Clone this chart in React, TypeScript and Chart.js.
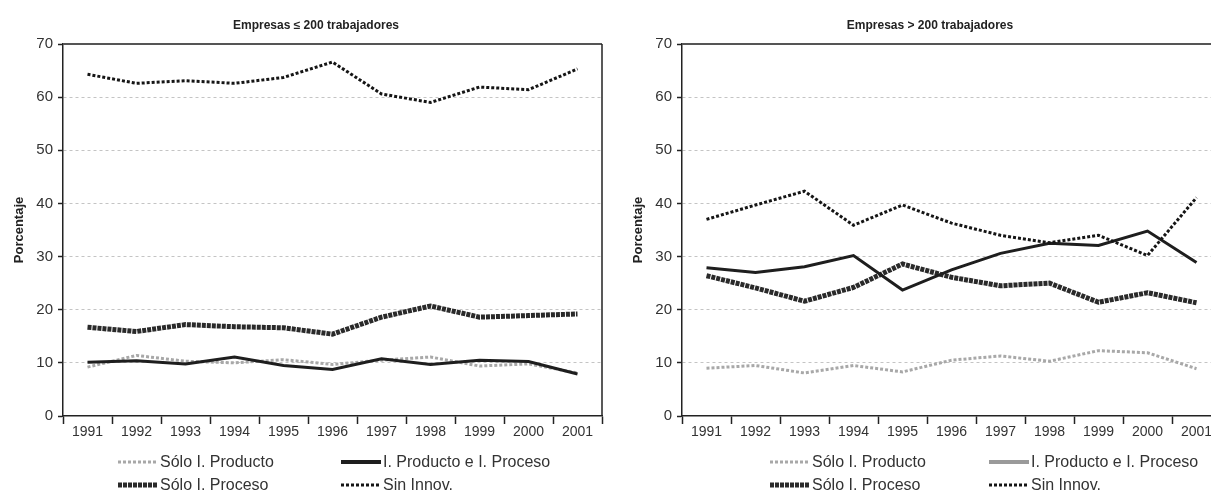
import React, { useEffect, useRef } from "react";
import { Chart, registerables } from "chart.js";

Chart.register(...registerables);

const years = ["1991", "1992", "1993", "1994", "1995", "1996", "1997", "1998", "1999", "2000", "2001"];

const smallProducto = [9.2, 11.4, 10.3, 10.0, 10.6, 9.7, 10.5, 11.1, 9.4, 9.8, 8.1];
const smallAmbos = [10.1, 10.4, 9.8, 11.1, 9.5, 8.75, 10.75, 9.7, 10.5, 10.25, 7.9];
const smallProceso = [16.7, 15.9, 17.2, 16.8, 16.6, 15.4, 18.6, 20.7, 18.6, 18.9, 19.2];
const smallSin = [64.3, 62.6, 63.1, 62.6, 63.7, 66.6, 60.6, 59.0, 61.9, 61.4, 65.3];

const largeProducto = [9.0, 9.5, 8.1, 9.5, 8.3, 10.5, 11.3, 10.3, 12.3, 11.9, 8.9];
const largeAmbos = [27.9, 27.0, 28.1, 30.2, 23.7, 27.5, 30.6, 32.5, 32.1, 34.8, 28.9];
const largeProceso = [26.4, 24.1, 21.6, 24.2, 28.6, 26.1, 24.5, 25.0, 21.4, 23.2, 21.3];
const largeSin = [37.0, 39.7, 42.3, 35.9, 39.7, 36.3, 34.0, 32.6, 34.0, 30.2, 41.1];

const seriesNames = ["Sólo I. Producto", "I. Producto e I. Proceso", "Sólo I. Proceso", "Sin Innov."];
const titles = ["Empresas \u2264 200 trabajadores", "Empresas > 200 trabajadores"];
const yAxisTitle = "Porcentaje";

const FONT = "'Liberation Sans', Arial, sans-serif";

const frame = {
  id: "frame",
  afterDatasetsDraw(chart: any) {
    const { ctx, chartArea } = chart;
    ctx.save();
    ctx.strokeStyle = "#555";
    ctx.lineWidth = 2;
    ctx.beginPath();
    ctx.moveTo(chartArea.left, chartArea.top);
    ctx.lineTo(chartArea.right, chartArea.top);
    ctx.stroke();
    ctx.strokeStyle = "#222";
    ctx.lineWidth = 1.5;
    ctx.beginPath();
    ctx.moveTo(chartArea.right, chartArea.top);
    ctx.lineTo(chartArea.right, chartArea.bottom);
    ctx.stroke();
    ctx.restore();
  },
};

function makeConfig(title: string, d: number[][], rightSpace: number): any {
  const [producto, ambos, proceso, sin] = d;
  return {
    type: "line",
    data: {
      labels: years,
      datasets: [
        { label: seriesNames[0], data: producto, borderColor: "#a8a8a8", borderWidth: 3, borderDash: [3, 2], order: 3 },
        { label: seriesNames[1], data: ambos, borderColor: "#1e1e1e", borderWidth: 3, order: 1 },
        { label: seriesNames[2], data: proceso, borderColor: "#2a2a2a", borderWidth: 5, borderDash: [4, 1], order: 2 },
        { label: seriesNames[3], data: sin, borderColor: "#151515", borderWidth: 3, borderDash: [3, 2], order: 0 },
      ].map((ds) => ({ ...ds, yAxisID: "y", pointRadius: 0, tension: 0, fill: false, borderCapStyle: "butt", borderJoinStyle: "miter" })),
    },
    options: {
      animation: false,
      responsive: false,
      devicePixelRatio: 1,
      layout: { padding: { left: 0, right: 0, top: 0, bottom: 45 } },
      plugins: {
        legend: { display: false },
        tooltip: { enabled: false },
        title: {
          display: true,
          text: title,
          color: "#222",
          font: { family: FONT, size: 12, weight: "bold" },
          padding: { top: 18, bottom: 11.6 },
        },
      },
      scales: {
        x: {
          type: "category",
          offset: true,
          grid: { display: true, drawOnChartArea: false, drawTicks: true, tickLength: 8, tickColor: "#222", tickWidth: 1.5, offset: true },
          border: { display: true, color: "#222", width: 1.5 },
          ticks: { color: "#333", font: { family: FONT, size: 14 }, padding: 0, maxRotation: 0, autoSkip: false },
          afterFit: (s: any) => { s.height = 30; },
        },
        y: {
          min: 0,
          max: 70,
          ticks: { stepSize: 10, color: "#333", font: { family: FONT, size: 15 }, padding: 5 },
          grid: {
            color: (c: any) => (c.tick && (c.tick.value === 0 || c.tick.value === 70) ? "rgba(0,0,0,0)" : "#c4c4c4"),
            lineWidth: 1,
            tickLength: 5,
            tickColor: "#222",
            tickWidth: 1.5,
          },
          border: { display: true, color: "#222", width: 1.5, dash: [3, 3] },
          title: { display: true, text: yAxisTitle, color: "#222", font: { family: FONT, size: 13, weight: "bold" }, padding: { top: 12, bottom: 0 } },
          afterFit: (s: any) => { s.width = 63; },
        },
        spacer: {
          type: "linear",
          position: "right",
          display: true,
          min: 0,
          max: 70,
          ticks: { display: false },
          grid: { display: false, drawTicks: false },
          border: { display: false },
          afterFit: (s: any) => { s.width = rightSpace; },
        },
      },
    },
    plugins: [frame],
  };
}

function Panel({ left, width, rightSpace, title, data }: { left: number; width: number; rightSpace: number; title: string; data: number[][] }) {
  const ref = useRef<HTMLCanvasElement>(null);
  useEffect(() => {
    const chart = new Chart(ref.current as HTMLCanvasElement, makeConfig(title, data, rightSpace));
    return () => chart.destroy();
  }, []);
  return <canvas ref={ref} width={width} height={491} style={{ position: "absolute", left, top: 0, width, height: 491 }} />;
}

function Sample({ color, width, dash }: { color: string; width: number; dash?: string }) {
  return (
    <svg width={40} height={8} style={{ display: "block" }}>
      <line x1={0} y1={4} x2={40} y2={4} stroke={color} strokeWidth={width} strokeDasharray={dash} />
    </svg>
  );
}

const legendStyles = [
  { color: "#a8a8a8", width: 3, dash: "3 2" },
  { color: "#1e1e1e", width: 4 },
  { color: "#2a2a2a", width: 5, dash: "4 1" },
  { color: "#151515", width: 3, dash: "3 2" },
];

function LegendItem({ x, y, idx, override }: { x: number; y: number; idx: number; override?: any }) {
  const st = { ...legendStyles[idx], ...(override || {}) };
  return (
    <div style={{ position: "absolute", left: x, top: y, display: "flex", alignItems: "center", height: 18, font: `16px ${FONT}`, color: "#333", whiteSpace: "nowrap" }}>
      <Sample color={st.color} width={st.width} dash={st.dash} />
      <span style={{ marginLeft: 2 }}>{seriesNames[idx]}</span>
    </div>
  );
}

export default function App() {
  return (
    <div style={{ position: "absolute", left: 0, top: 0, width: 1211, height: 491, overflow: "hidden", background: "#fff" }}>
      <Panel left={0} width={632} rightSpace={30} title={titles[0]} data={[smallProducto, smallAmbos, smallProceso, smallSin]} />
      <Panel left={619} width={622} rightSpace={20} title={titles[1]} data={[largeProducto, largeAmbos, largeProceso, largeSin]} />
      <LegendItem x={118} y={453} idx={0} />
      <LegendItem x={341} y={453} idx={1} />
      <LegendItem x={118} y={476} idx={2} />
      <LegendItem x={341} y={476} idx={3} />
      <LegendItem x={770} y={453} idx={0} />
      <LegendItem x={989} y={453} idx={1} override={{ color: "#9a9a9a" }} />
      <LegendItem x={770} y={476} idx={2} />
      <LegendItem x={989} y={476} idx={3} />
    </div>
  );
}
